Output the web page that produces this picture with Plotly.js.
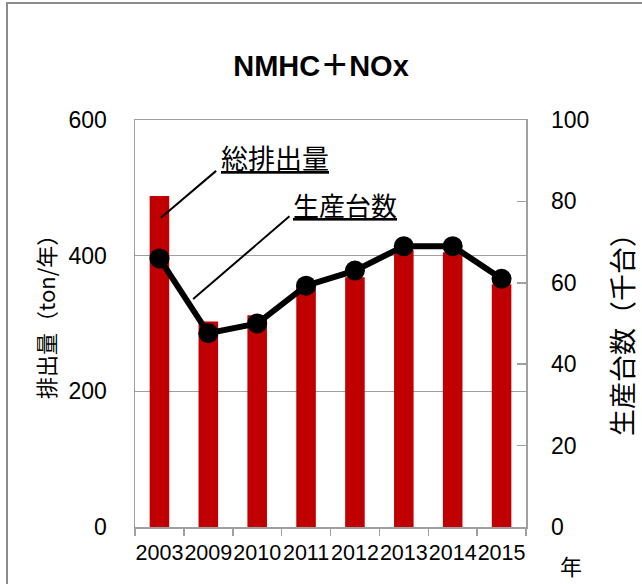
<!DOCTYPE html>
<html>
<head>
<meta charset="utf-8">
<script src="https://cdn.plot.ly/plotly-3.0.1.min.js"></script>
<style>
html,body{margin:0;padding:0;background:#fff;}
#frame{position:absolute;left:6px;top:2px;width:660px;height:620px;border:2px solid #8c8c8c;box-sizing:border-box;}
#chart{position:absolute;left:0;top:0;width:642px;height:584px;}
</style>
</head>
<body>
<div id="frame"></div>
<div id="chart"></div>
<script>
const years = ['2003','2009','2010','2011','2012','2013','2014','2015'];
const emissions = [488, 303, 312, 357, 368, 408, 405, 358];      // 総排出量 (ton/年)
const production = [66, 47.6, 50, 59.3, 63, 69, 69, 61];        // 生産台数 (千台)

const jp = '"Noto Sans CJK JP", sans-serif';
const num = '"Liberation Sans", Arial, sans-serif';
const grey = '#a0a0a0';

const traces = [
  {type:'bar', x:years, y:emissions, marker:{color:'#c00000'}, width:0.4, yaxis:'y', hoverinfo:'none'},
  {type:'scatter', mode:'lines+markers', x:years, y:production, yaxis:'y2',
   line:{color:'#000', width:6}, marker:{color:'#000', size:20}, hoverinfo:'none'}
];

const L = 135, R = 526, T = 120, B = 527;
const px = v => (v - L) / (R - L);
const py = v => (B - v) / (B - T);

const layout = {
  width:642, height:584,
  margin:{l:L, r:642-R, t:T, b:584-B, pad:0},
  paper_bgcolor:'rgba(0,0,0,0)', plot_bgcolor:'#fff',
  showlegend:false, bargap:0.6,
  title:{text:'NMHC＋NOx', font:{family:'"Liberation Sans", "Noto Sans CJK JP", sans-serif', size:29, color:'#000', weight:'bold'},
         x:0.5, xanchor:'center', y:1-66/584, yanchor:'middle', xref:'container', yref:'container'},
  xaxis:{type:'category', categoryorder:'array', categoryarray:years, range:[-0.5, years.length-0.5],
         showline:true, linecolor:grey, linewidth:1.5, mirror:true,
         ticks:'outside', tickson:'boundaries', ticklen:7, tickcolor:grey, tickwidth:1.5, tickangle:0,
         tickfont:{family:num, size:21.5, color:'#000'}, ticklabelstandoff:6, showgrid:false, fixedrange:true},
  yaxis:{range:[0,600], tickvals:[0,200,400,600], showgrid:true, gridcolor:grey, gridwidth:1.5,
         zeroline:false, showline:true, linecolor:grey, linewidth:1.5, mirror:true,
         ticks:'', ticklabelstandoff:22, tickfont:{family:num, size:23, color:'#000'}, fixedrange:true},
  yaxis2:{overlaying:'y', side:'right', range:[0,100], tickvals:[0,20,40,60,80,100],
         showgrid:false, zeroline:false, showline:false,
         ticks:'inside', ticklen:9, tickcolor:grey, tickwidth:1.5, ticklabelstandoff:24,
         tickfont:{family:num, size:23, color:'#000'}, fixedrange:true},
  shapes:[
    {type:'line', xref:'x', yref:'y', x0:1.16, y0:525, x1:0.03, y1:456, line:{color:'#000', width:2}},
    {type:'line', xref:'x', yref:'y', x0:2.66, y0:458, x1:0.69, y1:336, line:{color:'#000', width:2}}
  ],
  annotations:[
    {text:'<u>総排出量</u>', xref:'x', yref:'y', x:2.37, y:545, showarrow:false,
     font:{family:jp, size:27, color:'#000'}},
    {text:'<u>生産台数</u>', xref:'x', yref:'y', x:3.79, y:476, showarrow:false,
     font:{family:jp, size:26, color:'#000'}},
    {text:'排出量（ton/年）', xref:'paper', yref:'paper', x:px(45), y:py(312), textangle:-90, showarrow:false,
     xanchor:'center', yanchor:'middle', font:{family:jp, size:22, color:'#000'}},
    {text:'生産台数（千台）', xref:'paper', yref:'paper', x:px(621), y:py(328), textangle:-90, showarrow:false,
     xanchor:'center', yanchor:'middle', font:{family:jp, size:27, color:'#000'}},
    {text:'年', xref:'paper', yref:'paper', x:px(571), y:py(565), showarrow:false,
     xanchor:'center', yanchor:'middle', font:{family:jp, size:22, color:'#000'}}
  ]
};

Plotly.newPlot('chart', traces, layout, {staticPlot:true, displayModeBar:false});
</script>
</body>
</html>
